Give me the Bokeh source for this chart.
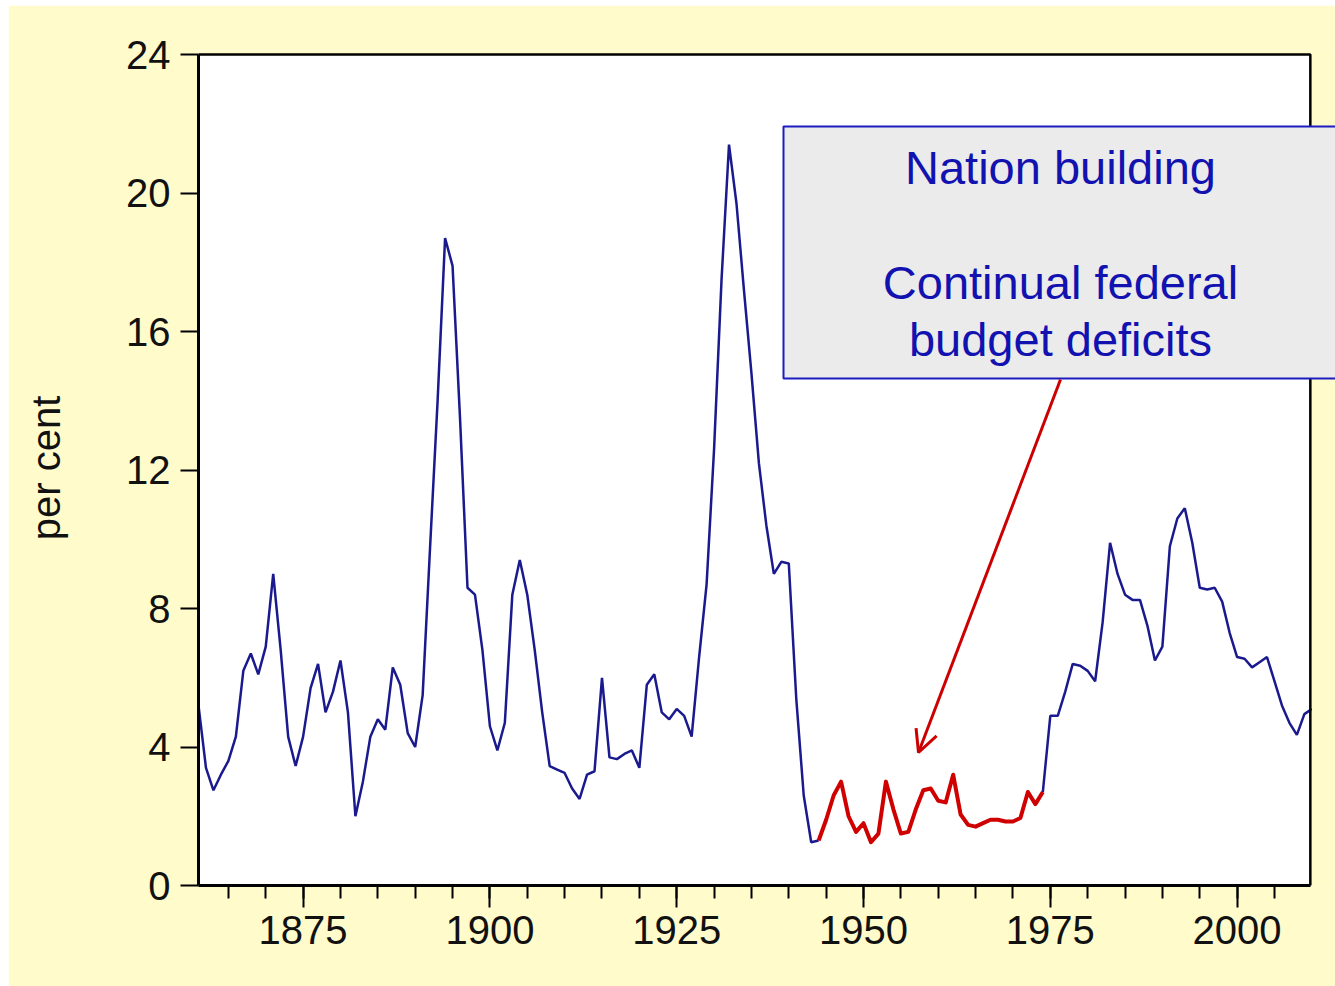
from bokeh.plotting import figure
from bokeh.models import (Range1d, BoxAnnotation, Label, Arrow, OpenHead,
                          SingleIntervalTicker, FixedTicker)
from bokeh.embed import file_html
from bokeh.resources import INLINE

# ---------------- data ----------------
years = list(range(1861, 2011))
unemployment = [
    5.2, 3.4, 2.75, 3.2, 3.6, 4.3, 6.2, 6.7, 6.1, 6.9,          # 1861-1870
    9.0, 6.8, 4.3, 3.45, 4.3, 5.7, 6.4, 5.0, 5.6, 6.5,          # 1871-1880
    5.0, 2.0, 3.0, 4.3, 4.8, 4.5, 6.3, 5.8, 4.4, 4.0,           # 1881-1890
    5.5, 9.8, 14.0, 18.7, 17.9, 13.5, 8.6, 8.4, 6.8, 4.6,       # 1891-1900
    3.9, 4.7, 8.4, 9.4, 8.4, 6.8, 5.0, 3.45, 3.35, 3.25,        # 1901-1910
    2.8, 2.5, 3.2, 3.3, 6.0, 3.7, 3.65, 3.8, 3.9, 3.4,          # 1911-1920
    5.8, 6.1, 5.0, 4.8, 5.1, 4.9, 4.3, 6.6, 8.7, 12.6,          # 1921-1930
    17.5, 21.4, 19.7, 17.2, 14.8, 12.2, 10.4, 9.0, 9.35, 9.3,   # 1931-1940
    5.4, 2.6, 1.25, 1.3, 1.9, 2.6, 3.0, 2.0, 1.55, 1.8,         # 1941-1950
    1.25, 1.5, 3.0, 2.2, 1.5, 1.55, 2.2, 2.75, 2.8, 2.45,       # 1951-1960
    2.4, 3.2, 2.05, 1.75, 1.7, 1.8, 1.9, 1.9, 1.85, 1.85,       # 1961-1970
    1.95, 2.7, 2.35, 2.7, 4.9, 4.9, 5.6, 6.4, 6.35, 6.2,        # 1971-1980
    5.9, 7.6, 9.9, 9.0, 8.4, 8.25, 8.25, 7.5, 6.5, 6.9,         # 1981-1990
    9.8, 10.6, 10.9, 9.9, 8.6, 8.55, 8.6, 8.2, 7.3, 6.6,        # 1991-2000
    6.55, 6.3, 6.45, 6.6, 5.9, 5.2, 4.7, 4.35, 4.95, 5.1,       # 2001-2010
]
highlight_start = 1944
highlight_end = 1974
y_ticks = [0, 4, 8, 12, 16, 20, 24]
note_lines = ["Nation building", "Continual federal", "budget deficits"]

# ---------------- styling ----------------
YELLOW = "#FFFBCB"
NAVY = "#1A1A8E"
RED = "#D00000"
TEXTBLUE = "#1212B0"
TICKFONT = "Liberation Sans"

PX_PER_YEAR = 7.472
PX_PER_UNIT = 34.62
FRAME_W = 1137
FRAME_H = 835

p = figure(width=1327, height=981, margin=(5, 0, 0, 8),
           x_range=Range1d(1861, 1861 + FRAME_W / PX_PER_YEAR),
           y_range=Range1d(0, FRAME_H / PX_PER_UNIT),
           output_backend="svg", toolbar_location=None,
           min_border_left=190, min_border_right=0,
           min_border_top=45, min_border_bottom=101,
           background_fill_color=YELLOW, border_fill_color=YELLOW,
           outline_line_color=None)
p.xgrid.visible = False
p.ygrid.visible = False

x_end = 2009.8

# white plotting area
p.add_layout(BoxAnnotation(left=1861, right=x_end, bottom=0, top=24,
                           fill_color="white", fill_alpha=1,
                           line_color=None, level="underlay"))

# x axis
xa = p.xaxis[0]
xa.ticker = SingleIntervalTicker(interval=25, num_minor_ticks=5)
xa.bounds = (1861, x_end)
xa.axis_line_width = 3
xa.axis_line_color = "black"
xa.major_tick_in = 0
xa.major_tick_out = 22
xa.minor_tick_in = 0
xa.minor_tick_out = 13
xa.major_tick_line_width = 2
xa.minor_tick_line_width = 2
xa.major_label_text_font = TICKFONT
xa.major_label_text_font_size = "40px"
xa.major_label_text_color = "#111111"
xa.major_label_standoff = 8

# y axis
ya = p.yaxis[0]
ya.ticker = FixedTicker(ticks=y_ticks, minor_ticks=[])
ya.bounds = (0, 24)
ya.axis_line_width = 3
ya.axis_line_color = "black"
ya.major_tick_in = 0
ya.major_tick_out = 18
ya.major_tick_line_width = 2
ya.major_label_text_font = TICKFONT
ya.major_label_text_font_size = "40px"
ya.major_label_text_color = "#111111"
ya.major_label_standoff = 10
ya.axis_label = "per cent"
ya.axis_label_text_font = "Liberation Sans"
ya.axis_label_text_font_style = "normal"
ya.axis_label_text_font_size = "40px"
ya.axis_label_text_color = "#111111"
ya.axis_label_standoff = 55

# series
i0 = years.index(highlight_start)
i1 = years.index(highlight_end)
p.line(years[:i0 + 1], unemployment[:i0 + 1], line_color=NAVY, line_width=2.5)
p.line(years[i1:], unemployment[i1:], line_color=NAVY, line_width=2.5)
p.line(years[i0:i1 + 1], unemployment[i0:i1 + 1], line_color=RED,
       line_width=4, line_join="round")

# cover region right of the plotting area, then the frame border
p.add_layout(BoxAnnotation(left=x_end + 0.2, fill_color=YELLOW, fill_alpha=1,
                           line_color=None, level="annotation"))
p.add_layout(BoxAnnotation(left=1861, right=x_end, bottom=0, top=24,
                           fill_alpha=0, line_color="black", line_alpha=1,
                           line_width=2.5, level="annotation"))

# note box
def yv(px):
    return (885 - px) / PX_PER_UNIT

def xv(px):
    return 1861 + (px - 198) / PX_PER_YEAR

p.add_layout(BoxAnnotation(left=xv(783), right=2030, bottom=yv(378), top=yv(126),
                           fill_color="#EBEBEB", fill_alpha=1,
                           line_color="#1C1CC0", line_alpha=1, line_width=2,
                           level="overlay"))
for txt, base in zip(note_lines, [167, 282, 339]):
    p.add_layout(Label(x=xv(1060), y=yv(base), text=txt,
                       text_font="Liberation Sans", text_font_size="47px",
                       text_color=TEXTBLUE, text_align="center",
                       text_baseline="alphabetic", level="overlay"))

p.add_layout(Arrow(x_start=xv(1060), y_start=yv(379), x_end=xv(918), y_end=yv(752),
                   line_color="#CC0000", line_width=3,
                   end=OpenHead(size=22, line_color="#CC0000", line_width=3),
                   level="overlay"))

open("out.html", "w").write(file_html(p, INLINE))
